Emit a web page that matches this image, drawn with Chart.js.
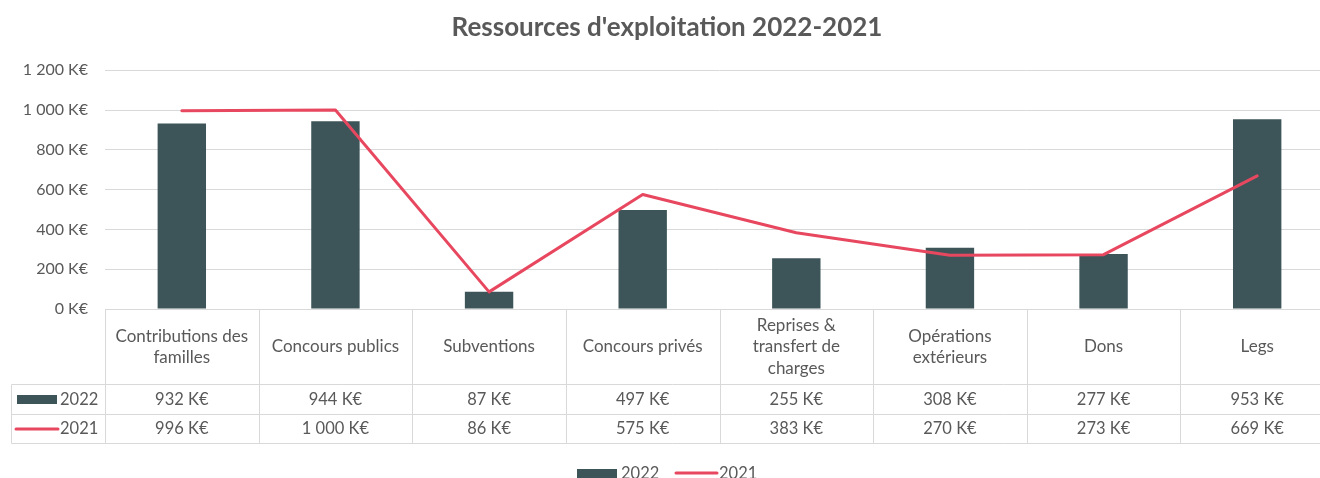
<!DOCTYPE html>
<html>
<head>
<meta charset="utf-8">
<script src="https://cdn.jsdelivr.net/npm/chart.js@4.4.0/dist/chart.umd.min.js"></script>
<style>
  html, body { margin: 0; padding: 0; background: #fff; overflow: hidden; }
</style>
</head>
<body>
<canvas id="ressources" width="1334" height="478"></canvas>
<script>
// donnees du graphique
const categories = [
    ['Contributions des', 'familles'],
    'Concours publics',
    'Subventions',
    'Concours privés',
    ['Reprises &', 'transfert de', 'charges'],
    ['Opérations', 'extérieurs'],
    'Dons',
    'Legs'
];
const annee2022 = [932, 944, 87, 497, 255, 308, 277, 953];
const annee2021 = [996, 1000, 86, 575, 383, 270, 273, 669];
const series = ['2022', '2021'];
const yMin = 0, yMax = 1200, yPas = 200;

const couleurBarre = '#3d5559';
const couleurLigne = '#e8485f';
const couleurTexte = '#595959';
const couleurGrille = '#d9d9d9';
const police = 'Lato, "Open Sans", sans-serif';

// 1200 -> "1 200 K€"
function euros(v) {
    const s = String(v).replace(/\B(?=(\d{3})+(?!\d))/g, ' ');
    return s + ' K€';
}

function trait(ctx, x1, y1, x2, y2) {
    ctx.beginPath();
    ctx.moveTo(x1, y1);
    ctx.lineTo(x2, y2);
    ctx.stroke();
}

// TABLEAU DE DONNEES + LEGENDE (dessine sous le graphique)
const tableau = {
    id: 'tableau',
    afterDraw(chart) {
        const ctx = chart.ctx;
        const a = chart.chartArea;
        const x = chart.scales.x;
        const colW = (a.right - a.left) / categories.length;
        const yHaut = Math.round(a.bottom) + 0.5;
        const yL1 = yHaut + 75;
        const yL2 = yL1 + 30;
        const yL3 = yL2 + 29;
        const xGauche = 11.5;

        ctx.save();
        ctx.strokeStyle = couleurGrille;
        ctx.lineWidth = 1;
        trait(ctx, a.left, yHaut, a.right, yHaut);
        trait(ctx, xGauche, yL1, a.right, yL1);
        trait(ctx, xGauche, yL2, a.right, yL2);
        trait(ctx, xGauche, yL3, a.right, yL3);
        trait(ctx, xGauche, yL1, xGauche, yL3);
        for (let i = 0; i <= categories.length; i++) {
            const xc = Math.round(a.left + i * colW) + 0.5;
            trait(ctx, xc, yHaut, xc, yL3);
        }

        // en-tetes
        ctx.fillStyle = couleurTexte;
        ctx.font = '17px ' + police;
        ctx.textAlign = 'center';
        ctx.textBaseline = 'middle';
        const milieu = (yHaut + yL1) / 2;
        categories.forEach((c, i) => {
            const lignes = Array.isArray(c) ? c : [c];
            const cx = x.getPixelForValue(i);
            lignes.forEach((t, k) => {
                ctx.fillText(t, cx, milieu + (k - (lignes.length - 1) / 2) * 21.5);
            });
        });

        // valeurs
        ctx.font = '16.5px ' + police;
        annee2022.forEach((v, i) => ctx.fillText(euros(v), x.getPixelForValue(i), (yL1 + yL2) / 2));
        annee2021.forEach((v, i) => ctx.fillText(euros(v), x.getPixelForValue(i), (yL2 + yL3) / 2));

        // cles de legende dans le tableau
        ctx.textAlign = 'left';
        ctx.fillStyle = couleurBarre;
        ctx.fillRect(17, (yL1 + yL2) / 2 - 4.5, 40, 9);
        ctx.strokeStyle = couleurLigne;
        ctx.lineWidth = 3;
        ctx.lineCap = 'round';
        trait(ctx, 16, (yL2 + yL3) / 2, 58, (yL2 + yL3) / 2);
        ctx.fillStyle = couleurTexte;
        ctx.fillText(series[0], 60, (yL1 + yL2) / 2);
        ctx.fillText(series[1], 60, (yL2 + yL3) / 2);

        // legende du bas
        const yLeg = 473;
        ctx.fillStyle = couleurBarre;
        ctx.fillRect(577, yLeg - 4, 40, 10);
        trait(ctx, 676, yLeg, 717, yLeg);
        ctx.fillStyle = couleurTexte;
        ctx.fillText(series[0], 621, yLeg + 1);
        ctx.fillText(series[1], 719, yLeg + 1);
        ctx.restore();
    }
};

const config = {
    data: {
        labels: categories,
        datasets: [
            {
                type: 'line',
                label: series[1],
                data: annee2021,
                borderColor: couleurLigne,
                backgroundColor: couleurLigne,
                borderWidth: 3,
                pointRadius: 0,
                tension: 0,
                borderJoinStyle: 'round',
                borderCapStyle: 'round',
                order: 0
            },
            {
                type: 'bar',
                label: series[0],
                data: annee2022,
                backgroundColor: couleurBarre,
                categoryPercentage: 1,
                barPercentage: 0.315,
                order: 1
            }
        ]
    },
    options: {
        responsive: false,
        animation: false,
        layout: { padding: { left: 0, right: 0, top: 0, bottom: 169 } },
        scales: {
            x: {
                type: 'category',
                offset: true,
                display: false
            },
            y: {
                min: yMin,
                max: yMax,
                afterFit(scale) { scale.width = 105; },
                border: { display: false },
                grid: { color: couleurGrille, lineWidth: 1, drawTicks: false },
                ticks: {
                    stepSize: yPas,
                    padding: 17,
                    color: couleurTexte,
                    font: { family: police, size: 16 },
                    callback: (v) => euros(v)
                }
            }
        },
        plugins: {
            legend: { display: false },
            tooltip: { enabled: false },
            title: {
                display: true,
                text: "Ressources d'exploitation 2022-2021",
                color: couleurTexte,
                font: { family: police, size: 26, weight: 'bold' },
                padding: { top: 12, bottom: 27 }
            }
        }
    },
    plugins: [tableau]
};

new Chart(document.getElementById('ressources'), config);
</script>
</body>
</html>
